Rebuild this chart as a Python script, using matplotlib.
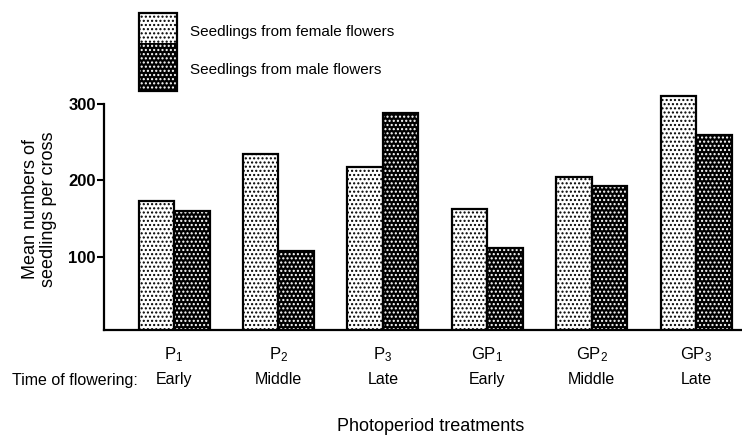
import matplotlib
matplotlib.use("Agg")
import matplotlib.pyplot as plt
from matplotlib.patches import Rectangle
import numpy as np

FONT = ['Liberation Sans Narrow', 'Liberation Sans', 'DejaVu Sans']
plt.rcParams['font.family'] = FONT
plt.rcParams['mathtext.fontset'] = 'custom'
plt.rcParams['mathtext.rm'] = 'Liberation Sans'
plt.rcParams['mathtext.it'] = 'Liberation Sans'
plt.rcParams['mathtext.bf'] = 'Liberation Sans:bold'
plt.rcParams['hatch.linewidth'] = 1.0

# data
treatments = ['P$_1$', 'P$_2$', 'P$_3$', 'GP$_1$', 'GP$_2$', 'GP$_3$']
flowering = ['Early', 'Middle', 'Late', 'Early', 'Middle', 'Late']
female = [173, 235, 217, 163, 205, 310]
male = [160, 107, 288, 112, 192, 259]
yticks = [100, 200, 300]

fig = plt.figure(figsize=(7.42, 4.36), dpi=100)
ax = fig.add_axes([0.1402, 0.2431, 0.8598, 0.5534])

x = np.arange(len(treatments))
w = 0.34

# hatch fill first, then plain outline on top
ax.bar(x - w / 2, female, w, align='center', color='white', hatch='....',
       edgecolor='black', linewidth=0)
ax.bar(x + w / 2, male, w, align='center', color='black', hatch='....',
       edgecolor='white', linewidth=0)
ax.bar(x - w / 2, female, w, fill=False, edgecolor='black', linewidth=1.6)
ax.bar(x + w / 2, male, w, fill=False, edgecolor='black', linewidth=1.6)

ax.set_xlim(-0.6705, 5.44)
ax.set_ylim(4, 320)
ax.spines['top'].set_visible(False)
ax.spines['right'].set_visible(False)
ax.spines['left'].set_bounds(4, 300)
ax.spines['left'].set_linewidth(1.6)
ax.spines['bottom'].set_linewidth(1.6)

ax.set_yticks(yticks)
ax.set_yticklabels([str(v) for v in yticks], fontsize=12, fontweight='bold')
ax.tick_params(axis='y', direction='out', length=5, width=1.5, pad=1)
ax.set_xticks([])

ax.set_ylabel('Mean numbers of\nseedlings per cross', fontsize=13,
              linespacing=1.15)
ax.yaxis.set_label_coords(-0.073, 0.5)

# category labels in two rows under the axis
for i in range(len(treatments)):
    ax.text(x[i], -0.104, treatments[i], transform=ax.get_xaxis_transform(),
            ha='center', va='center', fontsize=12)
    ax.text(x[i], -0.207, flowering[i], transform=ax.get_xaxis_transform(),
            ha='center', va='center', fontsize=11.5)

fig.text(138 / 742, 1 - 380 / 436, 'Time of flowering:', ha='right',
         va='center', fontsize=11.5)
fig.text(431 / 742, 1 - 426 / 436, 'Photoperiod treatments', ha='center',
         va='center', fontsize=13)

# legend swatches drawn by hand
fw, fh = 38 / 742, 436
sw_f = Rectangle((139 / 742, 1 - 43 / fh), fw, 30 / fh, transform=fig.transFigure,
                 facecolor='white', hatch='....', edgecolor='black', linewidth=0)
sw_m = Rectangle((139 / 742, 1 - 91 / fh), fw, 48 / fh, transform=fig.transFigure,
                 facecolor='black', hatch='....', edgecolor='white', linewidth=0)
sw_box = Rectangle((139 / 742, 1 - 91 / fh), fw, 78 / fh, transform=fig.transFigure,
                   fill=False, edgecolor='black', linewidth=1.6)
fig.patches.extend([sw_f, sw_m, sw_box])
fig.text(190 / 742, 1 - 32 / fh, 'Seedlings from female flowers', ha='left',
         va='center', fontsize=11)
fig.text(190 / 742, 1 - 70 / fh, 'Seedlings from male flowers', ha='left',
         va='center', fontsize=11)

fig.savefig('out.png', dpi=100)
